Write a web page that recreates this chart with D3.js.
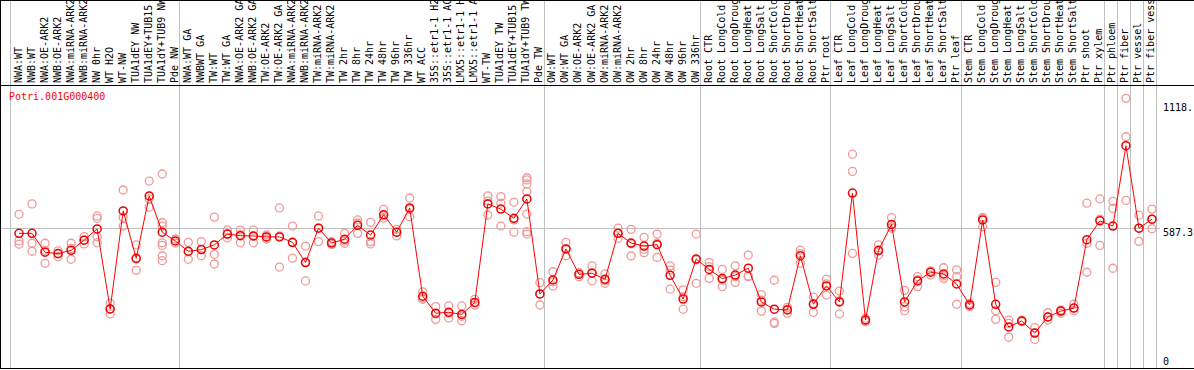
<!DOCTYPE html>
<html>
<head>
<meta charset="utf-8">
<script src="https://cdn.jsdelivr.net/npm/d3@7"></script>
<style>
  body { margin: 0; background: #fff; }
  text { font-family: "DejaVu Sans Mono", monospace; font-size: 10px; }
</style>
</head>
<body>
<div id="chart"></div>
<script>
// sample names, one per column
const labels = [
  'NWA:WT', 'NWB:WT', 'NWA:OE-ARK2', 'NWB:OE-ARK2', 'NWA:miRNA-ARK2', 'NWB:miRNA-ARK2',
  'NW 0hr', 'WT H2O', 'WT-NW', 'TUA1dEY NW', 'TUA1dEY+TUB15 NW', 'TUA1dY+TUB9 NW', 'Pde NW',
  'NWA:WT GA', 'NWBWT GA', 'TW:WT', 'TW:WT GA', 'NWA:OE-ARK2 GA', 'NWB:OE-ARK2 GA',
  'TW:OE-ARK2', 'TW:OE-ARK2 GA', 'NWA:miRNA-ARK2 GA', 'NWB:miRNA-ARK2 GA', 'TW:miRNA-ARK2',
  'TW:miRNA-ARK2', 'TW 2hr', 'TW 8hr', 'TW 24hr', 'TW 48hr', 'TW 96hr', 'TW 336hr', 'WT ACC',
  '35S::etr1-1 H2O', '35S::etr1-1 ACC', 'LMX5::etr1-1 H2O', 'LMX5::etr1-1 ACC', 'WT-TW',
  'TUA1dEY TW', 'TUA1dEY+TUB15 TW', 'TUA1dY+TUB9 TW', 'Pde TW',
  'OW:WT', 'OW:WT GA', 'OW:OE-ARK2', 'OW:OE-ARK2 GA', 'OW:miRNA-ARK2', 'OW:miRNA-ARK2',
  'OW 2hr', 'OW 8hr', 'OW 24hr', 'OW 48hr', 'OW 96hr', 'OW 336hr',
  'Root CTR', 'Root LongCold', 'Root LongDrought', 'Root LongHeat', 'Root LongSalt',
  'Root ShortCold', 'Root ShortDrought', 'Root ShortHeat', 'Root ShortSalt', 'Ptr root',
  'Leaf CTR', 'Leaf LongCold', 'Leaf LongDrought', 'Leaf LongHeat', 'Leaf LongSalt',
  'Leaf ShortCold', 'Leaf ShortDrought', 'Leaf ShortHeat', 'Leaf ShortSalt', 'Ptr leaf',
  'Stem CTR', 'Stem LongCold', 'Stem LongDrought', 'Stem LongHeat', 'Stem LongSalt',
  'Stem ShortCold', 'Stem ShortDrought', 'Stem ShortHeat', 'Stem ShortSalt', 'Ptr shoot',
  'Ptr xylem', 'Ptr phloem', 'Ptr fiber', 'Ptr vessel', 'Ptr fiber vessel'
];

// mean expression per column
const means = [
  563, 563, 483, 477, 491, 534, 582, 242, 658, 457, 722, 568, 531,
  487, 494, 514, 560, 553, 552, 548, 548, 525, 439, 585, 522, 538, 597, 556, 642, 568, 671,
  296, 224, 228, 219, 270, 688, 666, 627, 709, 306,
  365, 497, 389, 394, 368, 563, 522, 509, 515, 385, 284, 454,
  410, 371, 386, 415, 272, 241, 238, 468, 262, 340,
  272, 734, 195, 491, 601, 272, 361, 398, 391, 348,
  259, 620, 262, 166, 191, 140, 208, 233, 246, 536, 616,
  594, 935, 585, 623
];

// individual replicate values per column
const reps = [
  [644, 531, 517], [688, 521, 487], [521, 491, 436], [489, 477, 464], [521, 499, 453],
  [549, 534, 518], [637, 627, 549, 523], [266, 242, 221], [747, 631, 594], [514, 454, 406],
  [785, 709, 674], [815, 608, 594, 523, 512, 468, 447], [539, 522],
  [525, 484, 453], [528, 494, 468], [632, 474, 433], [577, 560, 543], [577, 559, 523],
  [577, 552, 523], [556, 548, 539], [671, 552, 420], [594, 523, 458], [509, 441, 361],
  [637, 586, 528], [528, 516], [563, 531, 521], [620, 607, 563], [610, 528, 518],
  [665, 637, 627], [580, 568, 552], [713, 665, 634], [315, 289, 283], [252, 221, 198],
  [255, 225, 204], [255, 211, 192], [283, 269, 259], [722, 700, 641], [719, 691, 594],
  [696, 620, 568], [799, 790, 773, 740, 645, 570, 560], [354, 306, 259],
  [400, 357, 340], [525, 497, 468], [396, 379], [425, 395, 361], [391, 362, 351],
  [585, 563, 542], [580, 519, 467], [546, 495, 481], [560, 521, 461], [425, 408, 326],
  [323, 294, 241], [560, 451, 351],
  [439, 422, 372], [410, 365, 337], [425, 379, 355], [471, 382, 379], [303, 279, 233],
  [364, 186, 181], [249, 241, 224], [492, 477, 436], [292, 266, 228], [368, 349, 301],
  [318, 276, 221], [899, 826, 478], [203, 195, 188], [514, 488, 471], [630, 590, 585],
  [321, 252, 235], [379, 366, 337], [403, 403, 386], [417, 382, 372], [408, 379, 262],
  [266, 259, 252], [631, 627, 591], [355, 235, 198], [195, 181, 122], [195, 190, 188],
  [163, 140, 113], [226, 208, 195], [238, 233, 224], [262, 246, 235], [691, 521, 398],
  [709, 623, 512], [699, 669, 415],
  [1136, 973, 703], [640, 585, 529], [666, 623, 583]
];

// column indices where a new tissue group starts (last one closes the plot)
const groupEdges = [0, 13, 41, 53, 63, 73, 84, 85, 86, 87, 88];

const yTicks = [1118, 587.3, 0];
const yTickLabels = ['1118.', '587.3', '0'];
const geneName = 'Potri.001G000400';

const width = 1194;
const height = 370;
const plotLeft = 10;
const plotRight = 1156;
const labelBottom = 85.5;
const plotBottom = 368.5;

const svg = d3.select('#chart')
  .append('svg')
  .attr('width', width)
  .attr('height', height);

const x = d3.scaleBand()
  .domain(d3.range(labels.length))
  .range([plotLeft, plotRight])
  .padding(0);

const y = d3.scaleLinear()
  .domain([0, 1180])
  .range([366, 88]);

const edgeX = k => Math.round(k < labels.length ? x(k) : plotRight) + 0.5;
const px = i => x(i) + 9;

// horizontal reference line at the middle tick
svg.append('line')
  .attr('x1', 0).attr('x2', 1160)
  .attr('y1', Math.round(y(587.3)) + 0.5).attr('y2', Math.round(y(587.3)) + 0.5)
  .attr('stroke', '#c0c0c0')
  .attr('shape-rendering', 'crispEdges');

// group separators, running through the label band too
svg.append('g')
  .selectAll('line')
  .data(groupEdges)
  .enter()
  .append('line')
  .attr('x1', edgeX).attr('x2', edgeX)
  .attr('y1', 0).attr('y2', plotBottom)
  .attr('stroke', '#c0c0c0')
  .attr('shape-rendering', 'crispEdges');

// frame lines
const frame = svg.append('g')
  .attr('stroke', '#000')
  .attr('shape-rendering', 'crispEdges');
frame.append('line').attr('x1', 0).attr('x2', width).attr('y1', 0.5).attr('y2', 0.5);
frame.append('line').attr('x1', 0).attr('x2', width).attr('y1', labelBottom).attr('y2', labelBottom);
frame.append('line').attr('x1', 0).attr('x2', width).attr('y1', plotBottom).attr('y2', plotBottom);
frame.append('line').attr('x1', 0.5).attr('x2', 0.5).attr('y1', 0).attr('y2', plotBottom);

// rotated sample labels
svg.append('g')
  .selectAll('text')
  .data(labels)
  .enter()
  .append('text')
  .attr('transform', (d, i) => `translate(${x(i) + 11.5}, 83) rotate(-90)`)
  .attr('fill', '#000')
  .text(d => d);

// right-hand value labels
svg.append('g')
  .selectAll('text')
  .data(yTicks)
  .enter()
  .append('text')
  .attr('x', 1163)
  .attr('y', d => Math.min(y(d) + 8.5, 365))
  .attr('fill', '#000')
  .text((d, i) => yTickLabels[i]);

// gene title
svg.append('text')
  .attr('x', 9)
  .attr('y', 100)
  .attr('fill', '#ff0000')
  .text(geneName);

// replicate dots
const repPoints = [];
reps.forEach((list, i) => list.forEach(v => repPoints.push({ i, v })));

svg.append('g')
  .selectAll('circle')
  .data(repPoints)
  .enter()
  .append('circle')
  .attr('cx', d => px(d.i))
  .attr('cy', d => y(d.v))
  .attr('r', 4)
  .attr('fill', 'none')
  .attr('stroke', '#f09898')
  .attr('stroke-width', 1.3);

// mean line
const line = d3.line()
  .x((d, i) => px(i))
  .y(d => y(d));

svg.append('path')
  .attr('d', line(means))
  .attr('fill', 'none')
  .attr('stroke', '#ff0000')
  .attr('stroke-width', 1);

// mean circles
svg.append('g')
  .selectAll('circle')
  .data(means)
  .enter()
  .append('circle')
  .attr('cx', (d, i) => px(i))
  .attr('cy', d => y(d))
  .attr('r', 4)
  .attr('fill', 'none')
  .attr('stroke', '#ee0000')
  .attr('stroke-width', 1.5);
</script>
</body>
</html>
